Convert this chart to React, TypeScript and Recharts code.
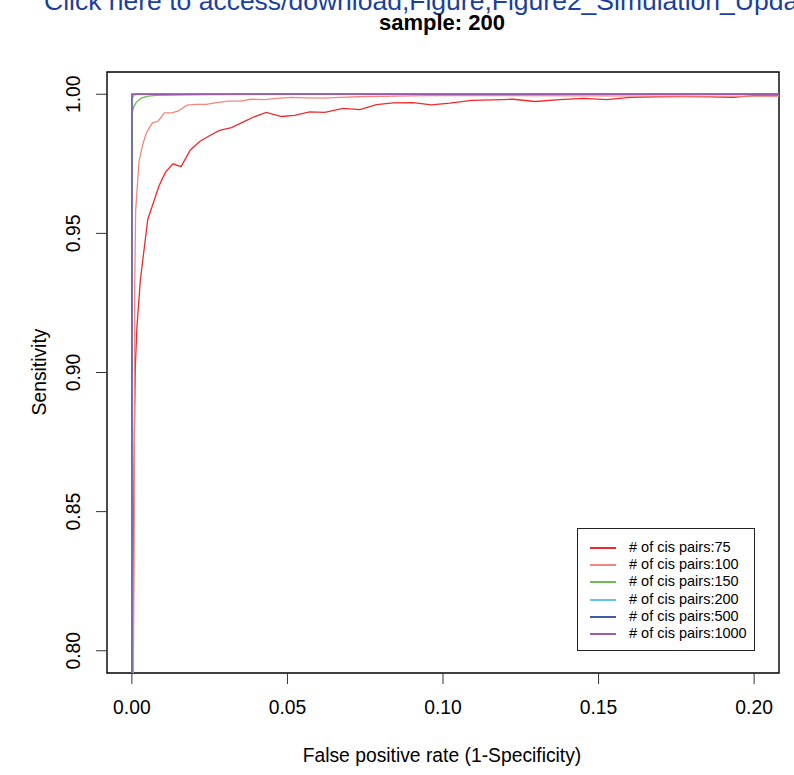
import { LineChart, Line, XAxis, YAxis, ReferenceArea } from "recharts";

// ROC curves, FPR (x) vs sensitivity (y), one pair of arrays per series
const fpr75 = [0, 0.0004, 0.0006, 0.0008, 0.0011, 0.0016, 0.0027, 0.0051, 0.0087, 0.0108, 0.0132, 0.0158, 0.0188, 0.0218, 0.0248, 0.0282, 0.032, 0.0357, 0.0395, 0.0432, 0.0481, 0.0523, 0.0571, 0.062, 0.0679, 0.0733, 0.0786, 0.084, 0.0904, 0.0963, 0.1022, 0.1092, 0.1162, 0.1226, 0.1296, 0.1376, 0.1451, 0.1526, 0.1601, 0.1687, 0.1773, 0.1859, 0.1934, 0.1998, 0.21];
const tpr75 = [0, 0.83, 0.854, 0.878, 0.902, 0.916, 0.933, 0.955, 0.967, 0.972, 0.975, 0.974, 0.98, 0.983, 0.985, 0.987, 0.988, 0.99, 0.992, 0.9935, 0.992, 0.9924, 0.9937, 0.9935, 0.9949, 0.9945, 0.9963, 0.9969, 0.997, 0.9962, 0.9968, 0.9978, 0.998, 0.9982, 0.9974, 0.9981, 0.9985, 0.9981, 0.9989, 0.9991, 0.9992, 0.9991, 0.9989, 0.9995, 0.9995];

const fpr100 = [0, 0.0005, 0.0007, 0.0009, 0.0012, 0.0023, 0.0035, 0.0046, 0.0066, 0.0084, 0.0105, 0.0127, 0.0148, 0.0177, 0.0207, 0.0239, 0.0272, 0.0309, 0.0347, 0.0384, 0.0427, 0.0465, 0.0513, 0.0561, 0.0615, 0.0668, 0.075, 0.095, 0.12, 0.15, 0.18, 0.21];
const tpr100 = [0, 0.8, 0.83, 0.93, 0.958, 0.976, 0.982, 0.986, 0.9897, 0.9903, 0.9933, 0.9933, 0.9939, 0.9961, 0.9964, 0.9964, 0.997, 0.9975, 0.9975, 0.9982, 0.9981, 0.9985, 0.9989, 0.9987, 0.9986, 0.9989, 0.9992, 0.9995, 0.9995, 0.9994, 0.9993, 0.9993];

const fpr150 = [0, 0.0001, 0.0005, 0.0014, 0.003, 0.0052, 0.008, 0.014, 0.025, 0.05, 0.21];
const tpr150 = [0, 0.993, 0.9953, 0.9971, 0.9986, 0.9993, 0.9996, 0.9997, 0.9999, 1, 1];

const fpr200 = [0, 0.0001, 0.0006, 0.0015, 0.21];
const tpr200 = [0, 0.9985, 0.9995, 1, 1];

const fpr500 = [0, 0, 0.21];
const tpr500 = [0, 1, 1];

const fpr1000 = [0, 0, 0.21];
const tpr1000 = [0, 1, 1];

const seriesNames = ["# of cis pairs:75", "# of cis pairs:100", "# of cis pairs:150", "# of cis pairs:200", "# of cis pairs:500", "# of cis pairs:1000"];
const seriesColors = ["#ee2a2c", "#f4867c", "#6cbf4a", "#5fc7de", "#3f5ca8", "#9a5aae"];

const xTicks = [0, 0.05, 0.1, 0.15, 0.2];
const yTicks = [0.8, 0.85, 0.9, 0.95, 1.0];

const FONT = "'Liberation Sans', Arial, Helvetica, sans-serif";

const toPoints = (xs: number[], ys: number[]) => xs.map((x, i) => ({ x, y: ys[i] }));

const series = [
  toPoints(fpr75, tpr75),
  toPoints(fpr100, tpr100),
  toPoints(fpr150, tpr150),
  toPoints(fpr200, tpr200),
  toPoints(fpr500, tpr500),
  toPoints(fpr1000, tpr1000),
];

function XTick(props: any) {
  const { x, payload } = props;
  return (
    <text x={x} y={714} textAnchor="middle" fontSize={19.3} fontFamily={FONT} fill="#000">
      {payload.value.toFixed(2)}
    </text>
  );
}

function YTick(props: any) {
  const { y, payload } = props;
  return (
    <text
      x={80}
      y={y}
      transform={`rotate(-90 80 ${y})`}
      textAnchor="middle"
      fontSize={19.3}
      fontFamily={FONT}
      fill="#000"
    >
      {payload.value.toFixed(2)}
    </text>
  );
}

export default function App() {
  return (
    <div style={{ position: "absolute", left: 0, top: 0, width: 794, height: 775, background: "#fff", overflow: "hidden", fontFamily: FONT }}>
      <div style={{ position: "absolute", left: 44, top: -14, fontSize: 26.5, color: "#1a3f9c", whiteSpace: "nowrap", lineHeight: "30px" }}>
        Click here to access/download,Figure,Figure2_Simulation_Update
      </div>
      <div style={{ position: "absolute", left: 0, width: 884, top: 11, textAlign: "center", fontSize: 22, fontWeight: "bold", lineHeight: "24px" }}>
        sample: 200
      </div>
      <LineChart width={794} height={775} margin={{ top: 72, right: 15, bottom: 0, left: 0 }} style={{ position: "absolute", left: 0, top: 0 }}>
        <XAxis
          type="number"
          dataKey="x"
          domain={[-0.008, 0.208]}
          allowDataOverflow
          ticks={xTicks}
          tick={<XTick />}
          tickSize={11}
          tickLine={{ stroke: "#333", strokeWidth: 1 }}
          axisLine={false}
          height={102}
          interval={0}
        />
        <YAxis
          type="number"
          dataKey="y"
          domain={[0.792, 1.008]}
          allowDataOverflow
          ticks={yTicks}
          tick={<YTick />}
          tickSize={11}
          tickLine={{ stroke: "#333", strokeWidth: 1 }}
          axisLine={false}
          width={107}
          interval={0}
        />
        {series.map((pts, i) => (
          <Line
            key={seriesNames[i]}
            data={pts}
            dataKey="y"
            type="linear"
            stroke={seriesColors[i]}
            strokeWidth={1.3}
            dot={false}
            activeDot={false}
            isAnimationActive={false}
          />
        ))}
        <ReferenceArea
          x1={-0.008}
          x2={0.208}
          y1={0.792}
          y2={1.008}
          fill="none"
          stroke="#000"
          strokeWidth={1.4}
          ifOverflow="visible"
        />
      </LineChart>
      <div style={{ position: "absolute", left: 0, top: 0, width: 884, height: 775, pointerEvents: "none" }}>
        <div style={{ position: "absolute", left: 0, right: 0, top: 744, textAlign: "center", fontSize: 19.3, lineHeight: "24px" }}>
          False positive rate (1-Specificity)
        </div>
      </div>
      <div
        style={{
          position: "absolute",
          left: 40,
          top: 372,
          transform: "translate(-50%, -50%) rotate(-90deg)",
          fontSize: 19.3,
          whiteSpace: "nowrap",
          lineHeight: "24px",
        }}
      >
        Sensitivity
      </div>
      <div
        style={{
          position: "absolute",
          left: 577,
          top: 528,
          width: 176,
          height: 121,
          border: "1px solid #222",
          background: "#fff",
        }}
      >
        {seriesNames.map((name, i) => (
          <div key={name} style={{ position: "absolute", left: 0, top: 9.7 + i * 17.33, height: 17.33, width: 176 }}>
            <div style={{ position: "absolute", left: 12, top: 8, width: 26, height: 2, background: seriesColors[i] }} />
            <div style={{ position: "absolute", left: 51, top: 0, fontSize: 14.5, lineHeight: "17px", whiteSpace: "nowrap" }}>{name}</div>
          </div>
        ))}
      </div>
    </div>
  );
}
